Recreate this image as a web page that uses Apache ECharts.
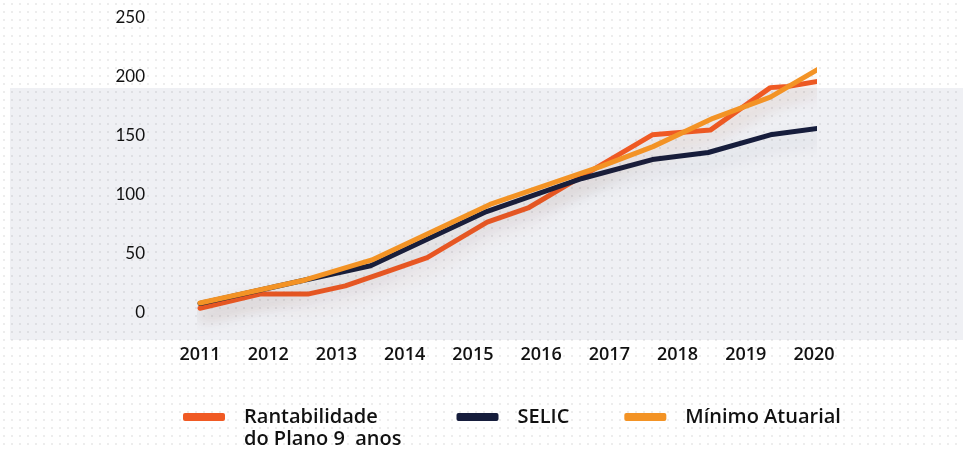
<!DOCTYPE html>
<html lang="pt">
<head>
<meta charset="UTF-8">
<title>Rentabilidade</title>
<script src="https://cdn.jsdelivr.net/npm/echarts@6/dist/echarts.min.js"></script>
<style>
  html, body { margin: 0; padding: 0; }
  body {
    width: 963px; height: 449px; overflow: hidden;
    background-color: #fff;
    /* pontilhado + faixa cinza */
    background-image: radial-gradient(circle, rgba(0,0,0,0.07) 1px, transparent 1.4px), linear-gradient(#eff0f4, #eff0f4);
    background-size: 8px 8px, 953px 252px;
    background-position: 0 0, 10px 88px;
    background-repeat: repeat, no-repeat;
  }
  #chart { width: 963px; height: 449px; }
</style>
</head>
<body>
<div id="chart"></div>
<script>
// dados
const years = ['2011', '2012', '2013', '2014', '2015', '2016', '2017', '2018', '2019', '2020'];
const yTicks = [0, 50, 100, 150, 200, 250];

const rentabX = [2011, 2011.88, 2012.58, 2013.13, 2013.74, 2014.33, 2015.21, 2015.81, 2016.57, 2017.63, 2018.48, 2019.36, 2019.61, 2020.13];
const rentabY = [4, 16, 16, 23, 35, 47, 77, 89, 115, 151, 155, 191, 192, 197];

const selicX = [2011, 2012.54, 2013.5, 2015.2, 2016.6, 2017.63, 2018.45, 2019.36, 2020.13];
const selicY = [8, 28, 40, 86, 114, 130, 136, 151, 157];

const minimoX = [2011, 2012.54, 2013.52, 2015.25, 2016.87, 2017.64, 2018.52, 2019.36, 2020.13];
const minimoY = [8.5, 28, 45, 92, 124, 141, 165, 183, 209];

const names = ['Rantabilidade\ndo Plano 9  anos', 'SELIC', 'Mínimo Atuarial'];

const zip = (xs, ys) => xs.map((x, i) => [x, ys[i]]);

const chart = echarts.init(document.getElementById('chart'));

function line(name, color, shadow, xs, ys) {
  return {
    name: name,
    type: 'line',
    data: zip(xs, ys),
    showSymbol: false,
    clip: false,
    color: color,
    lineStyle: {
      width: 5, color: color, cap: 'round', join: 'round',
      shadowColor: shadow, shadowBlur: 18, shadowOffsetY: 10
    }
  };
}

chart.setOption({
  backgroundColor: 'transparent',
  animation: false,
  grid: { left: 200, right: 149, top: 18, bottom: 136 },
  xAxis: {
    type: 'value',
    min: 2011, max: 2020, interval: 1,
    axisLine: { show: false }, axisTick: { show: false }, splitLine: { show: false },
    axisLabel: {
      margin: 33,
      color: '#111',
      fontFamily: 'Open Sans', fontWeight: 600, fontSize: 18,
      formatter: v => years[Math.round(v) - 2011] || ''
    }
  },
  yAxis: {
    type: 'value',
    min: yTicks[0], max: yTicks[yTicks.length - 1], interval: 50,
    axisLine: { show: false }, axisTick: { show: false }, splitLine: { show: false },
    axisLabel: {
      margin: 55,
      color: '#111',
      fontFamily: 'Lato', fontSize: 17
    }
  },
  legend: {
    left: 178, top: 379,
    itemWidth: 42, itemHeight: 8, itemGap: 55,
    icon: 'roundRect',
    // linha vazia antes do nome de duas linhas, para a 1a linha ficar alinhada ao ícone
    formatter: n => n.indexOf('\n') >= 0 ? ' \n' + n : n,
    textStyle: {
      fontFamily: 'Open Sans', fontWeight: 600, fontSize: 20, color: '#111',
      lineHeight: 22, padding: [0, 0, 0, 14]
    },
    data: names
  },
  series: [
    line(names[0], '#f05a24', 'rgba(150,60,30,0.18)', rentabX, rentabY),
    line(names[1], '#161d3c', 'rgba(20,30,60,0.16)', selicX, selicY),
    line(names[2], '#f39325', 'rgba(150,80,20,0.16)', minimoX, minimoY)
  ]
});
</script>
</body>
</html>
